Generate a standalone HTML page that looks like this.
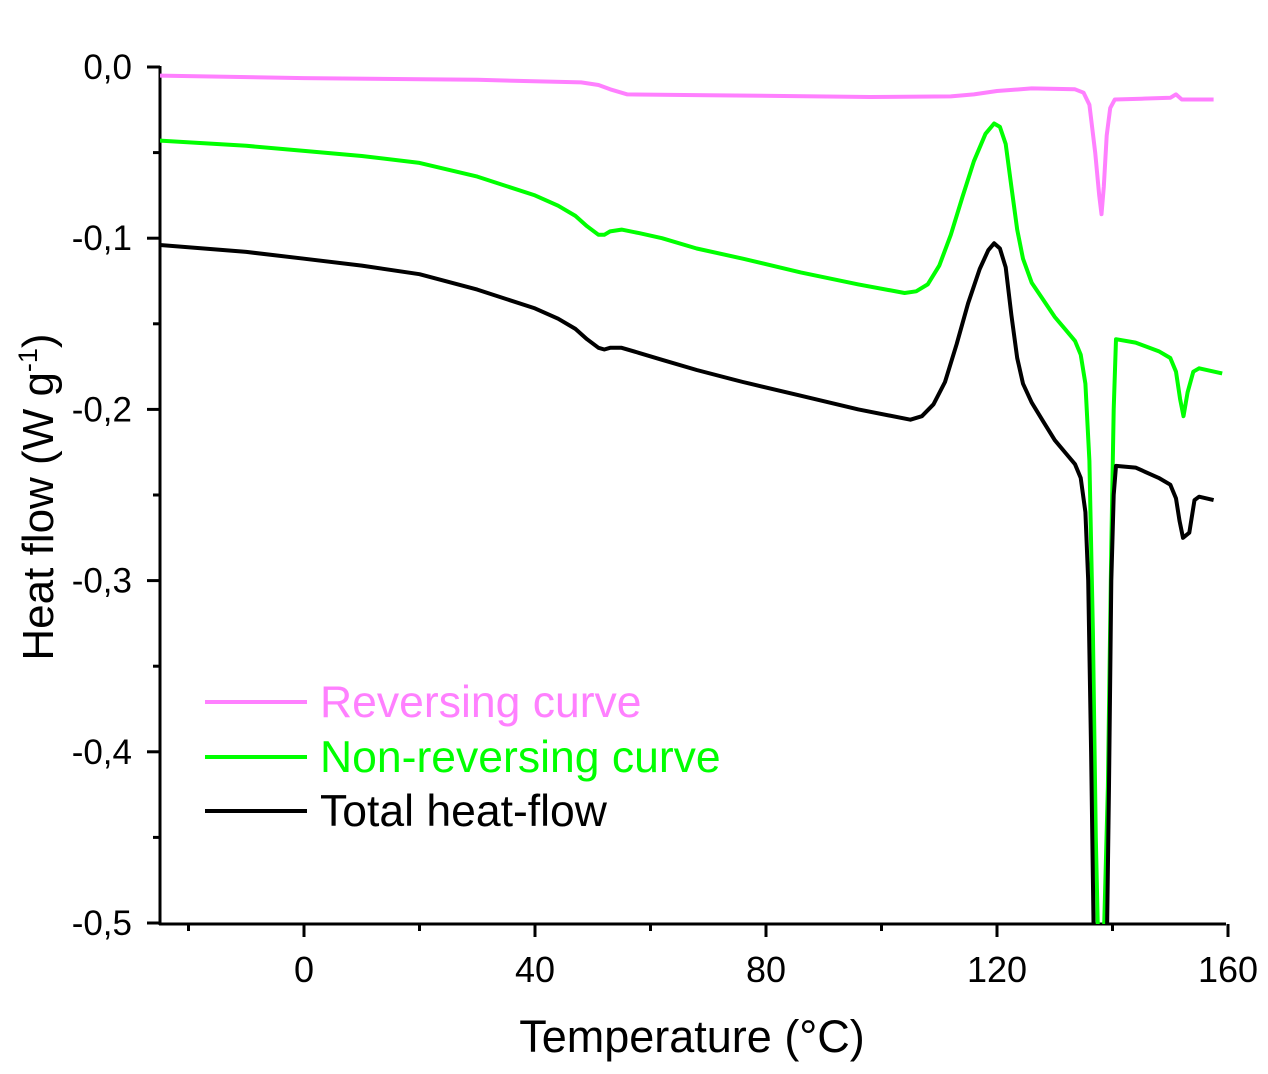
<!DOCTYPE html>
<html><head><meta charset="utf-8">
<style>
html,body{margin:0;padding:0;background:#fff;}
svg{display:block;font-family:"Liberation Sans",Arial,sans-serif;}
</style></head>
<body>
<svg id="chart" width="1268" height="1074" viewBox="0 0 1268 1074" xmlns="http://www.w3.org/2000/svg">
<defs><clipPath id="plotclip"><rect x="160" y="40" width="1108" height="884"/></clipPath></defs>
<g id="axes"></g>
<g id="series" clip-path="url(#plotclip)"></g>
<g id="legend"></g>
<text x="53" y="497" transform="rotate(-90 53 497)" text-anchor="middle" font-size="44">Heat flow (W g<tspan dy="-16" font-size="27">-1</tspan><tspan dy="16">)</tspan></text>
<text x="692" y="1052" text-anchor="middle" font-size="45">Temperature (°C)</text>
</svg>
<script>
const xTicks = [0, 40, 80, 120, 160];
const xTickLabels = ["0", "40", "80", "120", "160"];
const yTicks = [0, -0.1, -0.2, -0.3, -0.4, -0.5];
const yTickLabels = ["0,0", "-0,1", "-0,2", "-0,3", "-0,4", "-0,5"];
const seriesNames = ["Reversing curve", "Non-reversing curve", "Total heat-flow"];
const revT = [-25,0,30,48,51,53,56,70,98,112,116,120,126,133.5,135,136,137,137.7,138.1,138.5,139,139.6,140.4,145,150,151,152,157.5];
const revY = [-0.005,-0.0065,-0.0075,-0.009,-0.0105,-0.013,-0.016,-0.0165,-0.0175,-0.0172,-0.016,-0.014,-0.0125,-0.013,-0.015,-0.022,-0.05,-0.075,-0.086,-0.07,-0.04,-0.024,-0.019,-0.0185,-0.018,-0.016,-0.019,-0.019];
const nonT = [-25,-10,0,10,20,30,40,44,47,49,51,52,53,55,58,62,68,76,86,96,104,106,108,110,112,114,116,118,119.5,120.5,121.5,122.5,123.5,124.5,126,128,130,132,133.5,134.5,135.3,136,136.6,137.1,137.5,138.5,139.2,139.8,140.2,140.6,144,148,150,151,151.7,152.3,153,154,155,159];
const nonY = [-0.043,-0.046,-0.049,-0.052,-0.056,-0.064,-0.075,-0.081,-0.087,-0.093,-0.098,-0.098,-0.096,-0.095,-0.097,-0.1,-0.106,-0.112,-0.12,-0.127,-0.132,-0.131,-0.127,-0.116,-0.098,-0.076,-0.055,-0.039,-0.033,-0.035,-0.045,-0.07,-0.095,-0.112,-0.126,-0.136,-0.146,-0.154,-0.16,-0.168,-0.185,-0.23,-0.33,-0.45,-0.51,-0.51,-0.42,-0.28,-0.2,-0.159,-0.161,-0.166,-0.17,-0.178,-0.194,-0.204,-0.19,-0.178,-0.176,-0.179];
const totT = [-25,-10,0,10,20,30,40,44,47,49,51,52,53,55,58,62,68,76,86,96,105,107,109,111,113,115,117,118.5,119.5,120.5,121.5,122.5,123.5,124.5,126,128,130,132,133.5,134.5,135.3,135.8,136.3,136.8,139,139.4,139.8,140.2,140.6,144,148,150,151,151.6,152.2,153.3,154.2,155,157.5];
const totY = [-0.104,-0.108,-0.112,-0.116,-0.121,-0.13,-0.141,-0.147,-0.153,-0.159,-0.164,-0.165,-0.164,-0.164,-0.167,-0.171,-0.177,-0.184,-0.192,-0.2,-0.206,-0.204,-0.197,-0.184,-0.162,-0.138,-0.118,-0.107,-0.103,-0.106,-0.117,-0.145,-0.17,-0.185,-0.196,-0.207,-0.218,-0.226,-0.232,-0.24,-0.26,-0.3,-0.4,-0.52,-0.52,-0.42,-0.3,-0.25,-0.233,-0.234,-0.24,-0.244,-0.252,-0.265,-0.275,-0.272,-0.253,-0.251,-0.253];

const NS = "http://www.w3.org/2000/svg";
const x = t => 304 + t * 5.775;
const y = v => 67 - v * 1712;
function mk(tag, attrs, parent){const e=document.createElementNS(NS,tag);for(const k in attrs)e.setAttribute(k,attrs[k]);parent.appendChild(e);return e;}
const axes = document.getElementById('axes');
let a = mk('line',{x1:160,y1:66,x2:160,y2:925,stroke:'#000','stroke-width':3},axes);


a = mk('line',{x1:159,y1:924,x2:1226,y2:924,stroke:'#000','stroke-width':3},axes);


yTicks.forEach((v,i)=>{
  const t = mk('line',{x1:147,y1:y(v),x2:160,y2:y(v),stroke:'#000','stroke-width':3},axes);
  
  
  const l = mk('text',{x:132,y:y(v)+12,'text-anchor':'end','font-size':35},axes);
  l.textContent = yTickLabels[i];
  
  
  if(i<yTicks.length-1){
    const m = mk('line',{x1:153,y1:y(v-0.05),x2:160,y2:y(v-0.05),stroke:'#000','stroke-width':3},axes);
    
    
  }
});
xTicks.forEach((v,i)=>{
  const t = mk('line',{x1:x(v),y1:924,x2:x(v),y2:937,stroke:'#000','stroke-width':3},axes);
  
  
  const l = mk('text',{x:x(v),y:982,'text-anchor':'middle','font-size':36},axes);
  l.textContent = xTickLabels[i];
  
  
});
[-20,20,60,100,140].forEach(v=>{
  const m = mk('line',{x1:x(v),y1:924,x2:x(v),y2:931,stroke:'#000','stroke-width':3},axes);
  
  
});
const ser = document.getElementById('series');
const colors = ['#ff80ff','#00ff00','#000000'];
const names = ['reversing-curve','non-reversing-curve','total-heat-flow-curve'];
[[revT,revY],[nonT,nonY],[totT,totY]].forEach((s,i)=>{
  const d = s[0].map((t,j)=>(j?'L':'M')+x(t).toFixed(1)+' '+y(s[1][j]).toFixed(1)).join(' ');
  const p = mk('path',{d:d,fill:'none',stroke:colors[i],'stroke-width':4,'stroke-linejoin':'round'},ser);
  
  
});
const leg = document.getElementById('legend');
[702,757,811].forEach((ly,i)=>{
  const l = mk('line',{x1:205,y1:ly,x2:307,y2:ly,stroke:colors[i],'stroke-width':4},leg);
  
  
  const t = mk('text',{x:320,y:ly+15,'font-size':44.5,fill:colors[i]},leg);
  t.textContent = seriesNames[i];
  
  
});
</script>
</body></html>
